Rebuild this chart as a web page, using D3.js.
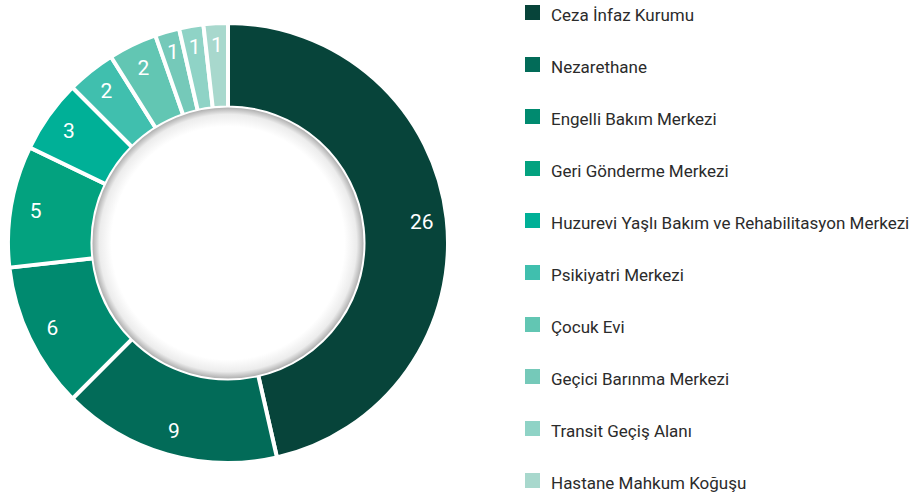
<!DOCTYPE html>
<html lang="tr">
<head>
<meta charset="UTF-8">
<title>Donut</title>
<script src="https://d3js.org/d3.v7.min.js"></script>
<style>
  body { margin: 0; background: #fff; }
  .legend text { font: 17px Roboto, sans-serif; fill: #2b2b2b; }
  .lbl { font: 21px Roboto, sans-serif; fill: #fff; }
</style>
</head>
<body>
<div id="chart"></div>
<script>
  // veriler
  const categories = ["Ceza İnfaz Kurumu", "Nezarethane", "Engelli Bakım Merkezi", "Geri Gönderme Merkezi",
    "Huzurevi Yaşlı Bakım ve Rehabilitasyon Merkezi", "Psikiyatri Merkezi", "Çocuk Evi",
    "Geçici Barınma Merkezi", "Transit Geçiş Alanı", "Hastane Mahkum Koğuşu"];
  const values = [26, 9, 6, 5, 3, 2, 2, 1, 1, 1];
  const colors = ["#07443a", "#026b58", "#008a6f", "#03a27f", "#00b097", "#40bfae",
    "#62c6b3", "#75c9b9", "#8fd3c6", "#a8d8cd"];

  const W = 914, H = 494;
  const cx = 228, cy = 243, rOut = 220, rIn = 135.5;

  const svg = d3.select("#chart").append("svg")
    .attr("width", W).attr("height", H);

  // iç gölge
  const defs = svg.append("defs");
  const grad = defs.append("radialGradient").attr("id", "hole");
  grad.append("stop").attr("offset", "0.86").attr("stop-color", "#ffffff");
  grad.append("stop").attr("offset", "0.95").attr("stop-color", "#ececec");
  grad.append("stop").attr("offset", "1").attr("stop-color", "#b0b0b0");

  const pie = d3.pie().sort(null).value(d => d);
  const arcs = pie(values);
  const arc = d3.arc().innerRadius(rIn).outerRadius(rOut);
  // küçük dilimlerde etiket biraz dışarıda
  const lblR = d => d.data <= 1 ? 199 : 195;

  const g = svg.append("g").attr("transform", `translate(${cx},${cy})`);

  g.selectAll("path.slice")
    .data(arcs)
    .enter().append("path")
    .attr("class", "slice")
    .attr("d", arc)
    .attr("fill", (d, i) => colors[i])
    .attr("stroke", "#fff")
    .attr("stroke-width", 4);

  g.append("circle").attr("r", rIn).attr("fill", "url(#hole)");

  g.selectAll("text.lbl")
    .data(arcs)
    .enter().append("text")
    .attr("class", "lbl")
    .attr("transform", d => {
      const r = lblR(d);
      return `translate(${d3.arc().innerRadius(r).outerRadius(r).centroid(d)})`;
    })
    .attr("text-anchor", "middle")
    .attr("dy", "0.36em")
    .text(d => d.data);

  // lejant
  const leg = svg.append("g").attr("class", "legend")
    .selectAll("g")
    .data(categories)
    .enter().append("g")
    .attr("transform", (d, i) => `translate(525,${5 + i * 52})`);

  leg.append("rect").attr("width", 15).attr("height", 15)
    .attr("fill", (d, i) => colors[i]);

  leg.append("text").attr("x", 26).attr("y", 15.5).text(d => d);
</script>
</body>
</html>
